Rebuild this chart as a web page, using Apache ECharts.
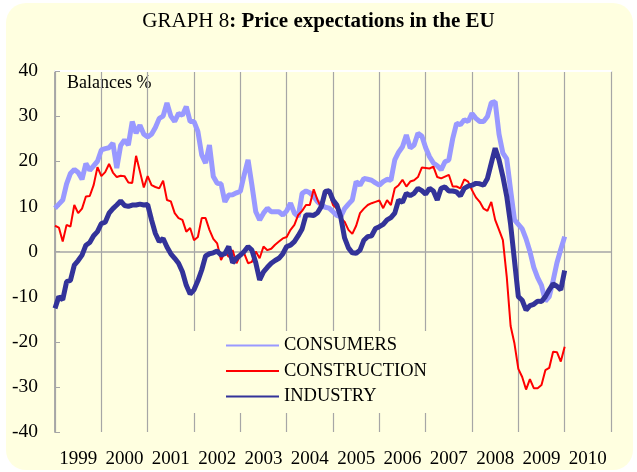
<!DOCTYPE html>
<html>
<head>
<meta charset="utf-8">
<script src="https://cdn.jsdelivr.net/npm/echarts@6/dist/echarts.min.js"></script>
<style>
  html, body { margin: 0; padding: 0; background: #ffffff; }
  #chart { width: 637px; height: 472px; }
</style>
</head>
<body>
<div id="chart"></div>
<script>
// Monthly balances, January 1999 to January 2010
const years = ['1999','2000','2001','2002','2003','2004','2005','2006','2007','2008','2009','2010'];

const consumers = [
  9.6,10.5,11.4,15,17.3,18.2,17.5,16,19.5,18,
  19,20,22.5,22.8,23,24,18.5,23.5,24.7,23.6,
  28.8,26.2,28,26,25.4,26,27.5,29.5,30,32.9,
  30,28.8,30.6,30.2,32.1,28.8,28.8,26.6,21.4,19.6,
  23.6,16.6,15.1,15,11,12.5,12.6,13,13.3,17,
  20.3,14.7,8.8,7,8.5,9.6,8.8,8.8,8.8,8.1,
  9,10.7,8.5,7.7,12.9,13.4,13,12.2,11,10.3,
  9.8,9.6,8.8,8,7.7,9.5,10.5,11.4,15.5,14.7,
  16.2,16,15.8,15.2,14.7,15.5,16,15.8,20.3,22,
  23.2,25.8,22.9,23.6,26.2,25.6,23,21,19.6,19,
  18.1,19.9,20.3,25,28.4,28.1,29.2,28.8,30.6,29.5,
  28.8,28.8,29.9,33,33.2,26,21.8,20.5,13.6,7,
  6,5,2.8,0,-3.5,-5.8,-7.5,-11,-10,-6.5,
  -2.5,0.5,3.3
];

const construction = [
  5.7,5.3,2.2,5.9,5.5,10.3,8.5,9.5,12.2,12.3,
  14.7,18.7,16.7,17.6,19.4,17.5,16.5,16.8,16.7,15.3,
  15.2,21.2,17.7,14.2,16.7,14.7,14.3,14,15.7,11.4,
  11.1,8.5,7.4,7,4.4,5.2,2.5,3.2,7.4,7.4,
  4.8,2.8,1.8,-1.9,-0.1,-1.2,0.3,-2.6,-0.8,-0.4,
  -2.6,-2.3,0,-1.5,1.1,0.3,0.6,1.5,2.2,2.9,
  3.2,4.8,5.9,8.1,9,10.3,10.3,13.8,11.4,9.6,
  12.9,13,10.3,9.5,7.4,6.6,4.8,3.9,5.7,8.5,
  9.5,10.3,10.7,11,11.3,9.6,11.4,10.3,14,14.7,
  15.9,14.4,15.5,15.8,16.5,18.6,18.5,18.4,18.8,16.5,
  16.2,16.6,17,14.4,14.4,14,16,15.5,13.6,12,
  11,9.5,9,11,7,4.8,2.5,-5.6,-16.5,-20.4,
  -26,-27.8,-30.6,-28.3,-30.3,-30.3,-29.6,-26.3,-25.8,-22.2,
  -22.3,-24.4,-21.1
];

const industry = [
  -12.6,-10,-10.7,-6.7,-6.4,-3,-2,-0.8,1.4,2,
  3.5,4.4,6.2,6.5,8.5,9.5,10.3,11.2,10.2,10,
  10.3,10.3,10.5,10.3,10.4,7,4,2.2,2.9,1,
  -0.5,-1.5,-2.6,-4.5,-7.5,-9.4,-8.5,-6.5,-4.1,-1,
  -0.5,-0.3,0.1,-0.8,-0.5,1.1,-2.5,-1.5,-0.8,0,
  1.1,0.3,-2.5,-6.3,-4.5,-3.5,-2.6,-2,-1.5,-0.5,
  1.1,1.4,2.2,3.5,5,8.1,8.1,8,8.6,10,
  13.3,13.5,11.4,10.3,7.7,3,0.8,-0.3,-0.4,0.3,
  2.5,3.3,3.5,5.1,5.5,6,7,7.5,8.5,11.4,
  10.9,12.9,12.4,12.9,14,13.5,12.7,14,13.4,11.4,
  14,14.3,13.4,13.4,13.2,12.3,14,14.5,14.7,15.1,
  15,14.7,16.2,19.6,22.9,20.3,16.6,12.2,6,-2,
  -10,-10.8,-13,-12,-11.7,-11,-11.1,-10,-8.5,-7.2,
  -7.7,-8.5,-4.2
];

const FONT = '"Liberation Serif", "Times New Roman", serif';
const PANEL = '#FFFFE0';
const GRIDC = '#A6A6A6';

// pair each value with its month index (0 = Jan 1999)
const toPairs = arr => arr.map((v, i) => [i, v]);

const chart = echarts.init(document.getElementById('chart'), null, { renderer: 'canvas' });

chart.setOption({
  backgroundColor: '#ffffff',
  animation: false,
  title: {
    text: '{a|GRAPH 8}{b|: Price expectations in the EU}',
    left: 'center',
    top: 6,
    textStyle: {
      rich: {
        a: { fontFamily: FONT, fontSize: 21, fontWeight: 'normal', color: '#000' },
        b: { fontFamily: FONT, fontSize: 21, fontWeight: 'bold', color: '#000' }
      }
    }
  },
  graphic: [
    {
      type: 'rect', z: -100,
      shape: { x: 6, y: 3, width: 627, height: 467, r: 20 },
      style: { fill: PANEL }
    },
    {
      type: 'group', z: 50,
      children: [
        { type: 'rect', shape: { x: 56, y: 72, width: 151, height: 21 }, style: { fill: PANEL } },
        { type: 'text', x: 67, y: 83,
          style: { text: 'Balances %', font: '18px ' + FONT, fill: '#000', textVerticalAlign: 'middle', verticalAlign: 'middle' } }
      ]
    }
  ],
  grid: { left: 55, right: 26, top: 71, bottom: 40, containLabel: false },
  legend: {
    orient: 'vertical',
    left: 185,
    top: 331,
    padding: [5, 20, 7, 40],
    itemGap: 6.5,
    itemWidth: 53,
    itemHeight: 14,
    backgroundColor: PANEL,
    itemStyle: { opacity: 0 },
    textStyle: { fontFamily: FONT, fontSize: 18.5, color: '#000' },
    data: ['CONSUMERS', 'CONSTRUCTION', 'INDUSTRY']
  },
  xAxis: [
    {
      type: 'value', min: 0, max: 144, interval: 12, position: 'bottom',
      axisLine: { show: true, lineStyle: { color: GRIDC, width: 1.5 } },
      axisTick: { show: false },
      axisLabel: { show: false },
      splitLine: { show: true, lineStyle: { color: GRIDC, width: 1.2 } }
    },
    {
      type: 'category', data: years, position: 'bottom', boundaryGap: true,
      axisLine: { show: false }, axisTick: { show: false },
      axisLabel: { interval: 0, hideOverlap: false, fontFamily: FONT, fontSize: 19, color: '#000', margin: 18 },
      splitLine: { show: false }
    },
    {
      type: 'value', min: 0, max: 144, position: 'top',
      axisLine: { show: true, lineStyle: { color: '#ffffff', width: 2 } },
      axisTick: { show: false }, axisLabel: { show: false }, splitLine: { show: false }
    }
  ],
  yAxis: [
    {
      type: 'value', min: -40, max: 40, interval: 10, position: 'left',
      axisLine: { show: true, lineStyle: { color: GRIDC, width: 1.5 } },
      axisTick: { show: true, inside: true, length: 5, lineStyle: { color: GRIDC } },
      axisLabel: { fontFamily: FONT, fontSize: 19.5, color: '#000', margin: 17 },
      splitLine: { show: false }
    },
    {
      type: 'value', min: -40, max: 40, position: 'right',
      axisLine: { show: true, lineStyle: { color: GRIDC, width: 1.5 } },
      axisTick: { show: false }, axisLabel: { show: false }, splitLine: { show: false }
    }
  ],
  series: [
    {
      name: 'CONSUMERS', type: 'line', xAxisIndex: 0, yAxisIndex: 0,
      data: toPairs(consumers), symbol: 'none', smooth: false,
      lineStyle: { color: '#9999FF', width: 5 }, itemStyle: { color: '#9999FF' }, z: 3
    },
    {
      name: 'CONSTRUCTION', type: 'line', xAxisIndex: 0, yAxisIndex: 0,
      data: toPairs(construction), symbol: 'none', smooth: false,
      lineStyle: { color: '#FF0000', width: 2 }, itemStyle: { color: '#FF0000' }, z: 4
    },
    {
      name: 'INDUSTRY', type: 'line', xAxisIndex: 0, yAxisIndex: 0,
      data: toPairs(industry), symbol: 'none', smooth: false,
      lineStyle: { color: '#333399', width: 5 }, itemStyle: { color: '#333399' }, z: 5
    }
  ]
});
</script>
</body>
</html>
